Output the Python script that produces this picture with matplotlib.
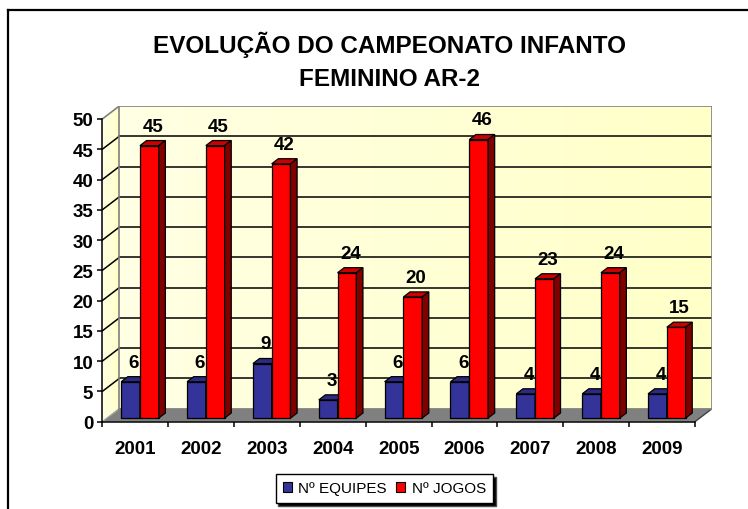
import matplotlib
matplotlib.use('Agg')
import matplotlib.pyplot as plt
from matplotlib.patches import Polygon, Rectangle, Patch
from matplotlib.lines import Line2D
from matplotlib.colors import LinearSegmentedColormap
import numpy as np

plt.rcParams['font.family'] = ['Liberation Sans', 'DejaVu Sans']

# data
years = ['2001', '2002', '2003', '2004', '2005', '2006', '2007', '2008', '2009']
equipes = [6, 6, 9, 3, 6, 6, 4, 4, 4]
jogos = [45, 45, 42, 24, 20, 46, 23, 24, 15]
yticks = list(range(0, 51, 5))

title1 = 'EVOLUÇÃO DO CAMPEONATO INFANTO'
title2 = 'FEMININO AR-2'

W, H = 748, 510
fig = plt.figure(figsize=(W / 100, H / 100), dpi=100)

# pixel geometry of the fake 3d box
x_front_l, x_front_r = 102.3, 695.0
y_zero, y_top = 422.7, 120.0
depth_px = (17.0, 13.0)
n = len(years)
ymax = yticks[-1]
px_per_cat = (x_front_r - x_front_l) / n
px_per_val = (y_zero - y_top) / ymax
DX = depth_px[0] / px_per_cat
DY = depth_px[1] / px_per_val

ax = fig.add_axes([x_front_l / W, 1 - y_zero / H,
                   (x_front_r - x_front_l + depth_px[0]) / W,
                   (y_zero - y_top + depth_px[1]) / H])
ax.patch.set_visible(False)

# wall gradient
cmap = LinearSegmentedColormap.from_list('wall', ['#FFFFE4', '#FFFFC8'])
grad = np.linspace(0, 1, 256).reshape(1, -1)

back = Polygon([(DX, DY), (n + DX, DY), (n + DX, ymax + DY), (DX, ymax + DY)],
               closed=True, facecolor='none', edgecolor='#808080', lw=1.2, zorder=2)
ax.add_patch(back)
ax.imshow(grad, cmap=cmap, extent=[DX, n + DX, DY, ymax + DY], aspect='auto',
          interpolation='bicubic', zorder=0)

left = Polygon([(0, 0), (DX, DY), (DX, ymax + DY), (0, ymax)], closed=True,
               facecolor='none', edgecolor='none', zorder=0)
ax.add_patch(left)
im = ax.imshow(grad, cmap=cmap, extent=[0, DX, 0, ymax + DY], aspect='auto',
               interpolation='bicubic', zorder=0)
im.set_clip_path(left)

# grid on back and left walls
for v in yticks[1:-1]:
    ax.plot([DX, n + DX], [v + DY, v + DY], color='black', lw=1.1, zorder=1)
    ax.plot([0, DX], [v, v + DY], color='black', lw=1.1, zorder=1)
ax.plot([0, DX], [ymax, ymax + DY], color='#808080', lw=1.2, zorder=2)

# floor
floor = Polygon([(0, 0), (n, 0), (n + DX, DY), (DX, DY)], closed=True,
                facecolor='#808080', edgecolor='none', zorder=1.5)
ax.add_patch(floor)
ax.plot([n, n + DX], [0, DY], color='#404040', lw=1, zorder=1.6)
ax.plot([0, DX], [0, DY], color='#a0a0a0', lw=1, zorder=1.6)

# bars
w = 0.285
f0, fd = 0.28, 0.39
ddx, ddy = fd * DX, fd * DY
base = f0 * DY


def draw_bar(x0, v, front, top, side, z):
    ax.add_patch(Rectangle((x0, base), w, v, facecolor=front, edgecolor='black',
                           lw=0.9, zorder=z))
    ax.add_patch(Polygon([(x0, base + v), (x0 + w, base + v),
                          (x0 + w + ddx, base + v + ddy), (x0 + ddx, base + v + ddy)],
                         closed=True, facecolor=top, edgecolor='black', lw=0.9, zorder=z))
    ax.add_patch(Polygon([(x0 + w, base), (x0 + w, base + v),
                          (x0 + w + ddx, base + v + ddy), (x0 + w + ddx, base + ddy)],
                         closed=True, facecolor=side, edgecolor='black', lw=0.9, zorder=z))
    ax.text(x0 + w / 2 + ddx * 0.5, base + v + ddy + 1.0, str(v), ha='center',
            va='bottom', fontsize=13.5, fontweight='bold', zorder=10)


for i in range(n):
    xb = i + 0.5 - w + f0 * DX
    draw_bar(xb, equipes[i], '#333399', '#2B2B85', '#1A1A4D', 3 + i * 0.1)
    draw_bar(xb + w, jogos[i], '#FF0000', '#CC0000', '#800000', 3.05 + i * 0.1)

ax.set_xlim(0, n + DX)
ax.set_ylim(0, ymax + DY)

for s in ['top', 'right']:
    ax.spines[s].set_visible(False)
ax.spines['left'].set_position(('data', 0))
ax.spines['left'].set_bounds(0, ymax)
ax.spines['bottom'].set_position(('data', 0))
ax.spines['bottom'].set_bounds(0, n)
for s in ['left', 'bottom']:
    ax.spines[s].set_linewidth(1.1)
    ax.spines[s].set_zorder(6)

ax.set_yticks(yticks)
ax.set_yticklabels([str(t) for t in yticks], fontsize=13.5, fontweight='bold')
ax.tick_params(axis='y', length=3.6, width=1.1, pad=3)

ax.set_xticks(np.arange(0, n + 1))
ax.set_xticklabels([])
ax.set_xticks(np.arange(n) + 0.5, minor=True)
ax.set_xticklabels(years, minor=True, fontsize=13.5, fontweight='bold')
ax.tick_params(axis='x', which='major', length=3.6, width=1.1)
ax.tick_params(axis='x', which='minor', length=0, pad=13)

# titles
fig.text(389.5 / W, 1 - 45 / H, title1, ha='center', va='center',
         fontsize=17.5, fontweight='bold')
fig.text(389.5 / W, 1 - 79 / H, title2, ha='center', va='center',
         fontsize=17.5, fontweight='bold')

# outer frame (cut off on right and bottom)
fig.add_artist(Line2D([8 / W, 8 / W], [0, 1 - 11 / H], transform=fig.transFigure,
                      color='black', lw=1.6))
fig.add_artist(Line2D([8 / W, 1], [1 - 11 / H, 1 - 11 / H], transform=fig.transFigure,
                      color='black', lw=1.6))

handles = [Patch(facecolor='#333399', edgecolor='black', lw=0.8),
           Patch(facecolor='#FF0000', edgecolor='black', lw=0.8)]
leg = fig.legend(handles, ['Nº EQUIPES', 'Nº JOGOS'], loc='center',
                 bbox_to_anchor=(384.5 / W, 1 - 489.5 / H), ncol=2,
                 prop={'size': 11}, fancybox=False, edgecolor='black',
                 framealpha=1, handlelength=0.6, handleheight=0.6,
                 handletextpad=0.4, columnspacing=0.6, borderpad=0.5,
                 shadow={'facecolor': 'black', 'alpha': 1})
leg.get_frame().set_linewidth(1)

fig.savefig('out.png', dpi=100)
